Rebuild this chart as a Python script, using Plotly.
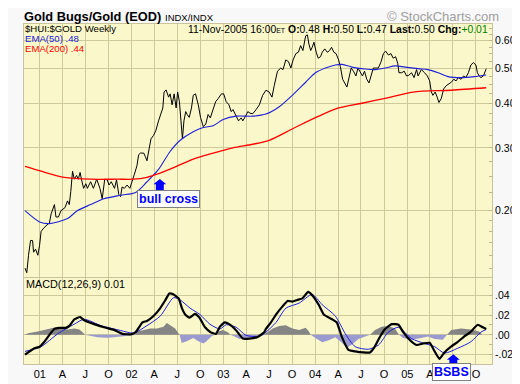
import numpy as np
import plotly.graph_objects as go

# ---------------- data ----------------
price_dates = [
 "2000-11-03","2000-11-10","2000-11-17","2000-11-25","2000-12-03","2000-12-07","2000-12-15","2000-12-24","2000-12-31",
 "2001-01-06","2001-01-17","2001-01-29","2001-02-08","2001-02-15","2001-02-28","2001-03-06","2001-03-16","2001-03-26",
 "2001-04-11","2001-04-21","2001-04-28","2001-05-04","2001-05-11","2001-05-18","2001-05-27","2001-06-03","2001-06-10",
 "2001-06-16","2001-06-24","2001-07-03","2001-07-09","2001-07-22","2001-08-02","2001-08-15","2001-08-28","2001-09-06",
 "2001-09-16","2001-09-26","2001-10-03","2001-10-12","2001-10-25","2001-11-02","2001-11-11","2001-11-18","2001-11-24",
 "2001-12-03","2001-12-14","2001-12-25","2002-01-03","2002-01-12","2002-01-22","2002-01-29","2002-02-05","2002-02-18",
 "2002-02-24","2002-03-03","2002-03-10","2002-03-19","2002-03-29","2002-04-07","2002-04-18","2002-04-27","2002-05-05",
 "2002-05-10","2002-05-18","2002-05-28","2002-06-03","2002-06-11","2002-06-19","2002-06-27","2002-07-03","2002-07-10",
 "2002-07-16","2002-07-22","2002-07-28","2002-08-04","2002-08-10","2002-08-18","2002-08-27","2002-09-03","2002-09-12",
 "2002-09-23","2002-10-02","2002-10-13","2002-10-23","2002-11-01","2002-11-10","2002-11-21","2002-12-01","2002-12-11",
 "2002-12-24","2003-01-02","2003-01-12","2003-01-23","2003-02-01","2003-02-08","2003-02-21","2003-03-02","2003-03-13",
 "2003-03-19","2003-03-30","2003-04-08","2003-04-17","2003-04-28","2003-05-11","2003-05-24","2003-06-06","2003-06-19",
 "2003-07-02","2003-07-13","2003-07-22","2003-08-04","2003-08-17","2003-08-26","2003-09-06","2003-09-17","2003-09-26",
 "2003-10-05","2003-10-16","2003-10-26","2003-11-04","2003-11-13","2003-11-24","2003-12-01","2003-12-07","2003-12-14",
 "2003-12-20","2003-12-27","2004-01-05","2004-01-13","2004-01-22","2004-01-29","2004-02-08","2004-02-18","2004-02-27",
 "2004-03-06","2004-03-15","2004-03-24","2004-04-03","2004-04-10","2004-04-19","2004-04-30","2004-05-06","2004-05-16",
 "2004-05-23","2004-06-01","2004-06-11","2004-06-19","2004-06-28","2004-07-07","2004-07-15","2004-07-24","2004-08-02",
 "2004-08-13","2004-08-19","2004-08-29","2004-09-08","2004-09-19","2004-09-28","2004-10-07","2004-10-18","2004-10-28",
 "2004-11-06","2004-11-16","2004-11-24","2004-11-29","2004-12-10","2004-12-20","2004-12-29","2005-01-07","2005-01-18",
 "2005-01-28","2005-02-07","2005-02-13","2005-02-26","2005-03-11","2005-03-22","2005-03-31","2005-04-07","2005-04-13",
 "2005-04-22","2005-04-30","2005-05-07","2005-05-16","2005-05-26","2005-06-05","2005-06-14","2005-06-25","2005-07-05",
 "2005-07-14","2005-07-23","2005-08-03","2005-08-13","2005-08-22","2005-09-01","2005-09-11","2005-09-21","2005-10-01",
 "2005-10-07","2005-10-14","2005-10-21","2005-10-31","2005-11-11"]
price_values = [
 0.138,0.134,0.150,0.165,0.165,0.153,0.156,0.150,0.160,
 0.175,0.179,0.182,0.185,0.196,0.208,0.192,0.192,0.200,
 0.204,0.213,0.208,0.226,0.258,0.245,0.251,0.245,0.256,
 0.244,0.231,0.238,0.231,0.241,0.231,0.245,0.231,0.216,
 0.245,0.244,0.236,0.241,0.231,0.244,0.222,0.219,0.233,
 0.231,0.236,0.231,0.244,0.253,0.267,0.287,0.290,0.290,
 0.284,0.276,0.294,0.318,0.325,0.335,0.357,0.372,0.388,
 0.430,0.436,0.416,0.425,0.396,0.425,0.388,0.430,0.404,
 0.357,0.318,0.357,0.379,0.372,0.365,0.388,0.421,0.425,
 0.396,0.365,0.344,0.350,0.372,0.364,0.388,0.404,0.412,
 0.425,0.425,0.404,0.396,0.379,0.384,0.368,0.357,0.364,
 0.357,0.368,0.379,0.375,0.374,0.384,0.396,0.421,0.435,
 0.430,0.416,0.448,0.492,0.502,0.497,0.529,0.523,0.502,
 0.529,0.551,0.556,0.580,0.562,0.618,0.622,0.586,0.562,
 0.574,0.593,0.556,0.535,0.540,0.556,0.568,0.556,0.562,
 0.574,0.556,0.551,0.529,0.507,0.467,0.453,0.444,0.477,
 0.502,0.492,0.477,0.502,0.487,0.477,0.492,0.467,0.456,
 0.487,0.502,0.502,0.502,0.523,0.551,0.560,0.546,0.551,
 0.535,0.540,0.518,0.487,0.487,0.492,0.477,0.479,0.487,
 0.472,0.497,0.477,0.497,0.487,0.477,0.462,0.430,0.421,
 0.430,0.416,0.402,0.412,0.439,0.448,0.453,0.458,0.467,
 0.462,0.472,0.467,0.477,0.472,0.487,0.512,0.520,0.512,
 0.487,0.477,0.472,0.477,0.500]

ema50_dates = ["2000-11-03","2000-12-31","2001-02-08","2001-04-21","2001-05-30","2001-07-22","2001-09-13","2001-11-18",
 "2002-01-17","2002-03-03","2002-04-18","2002-06-03","2002-07-13","2002-09-03","2002-10-13","2002-11-21","2002-12-31",
 "2003-02-21","2003-04-28","2003-06-19","2003-08-11","2003-10-02","2003-11-24","2004-01-02","2004-02-11","2004-03-21",
 "2004-04-17","2004-05-26","2004-07-18","2004-08-27","2004-10-05","2004-11-14","2004-12-23","2005-02-13","2005-03-24",
 "2005-05-04","2005-06-12","2005-08-03","2005-09-24","2005-11-11"]
ema50_values = [0.200,0.186,0.184,0.190,0.200,0.208,0.216,0.221,
 0.225,0.241,0.261,0.293,0.315,0.333,0.342,0.346,0.360,
 0.368,0.368,0.373,0.391,0.421,0.458,0.487,0.502,0.512,
 0.514,0.505,0.499,0.497,0.502,0.509,0.505,0.500,0.497,
 0.487,0.475,0.472,0.475,0.480]

ema200_dates = ["2000-11-03","2001-01-06","2001-04-08","2001-07-22","2001-11-08","2002-01-08","2002-03-03","2002-04-12",
 "2002-06-17","2002-09-03","2002-11-21","2003-02-08","2003-04-28","2003-07-02","2003-10-09","2004-01-15","2004-04-03",
 "2004-07-05","2004-10-05","2005-01-24","2005-06-25","2005-11-11"]
ema200_values = [0.266,0.258,0.248,0.245,0.245,0.245,0.248,0.253,
 0.264,0.279,0.290,0.300,0.307,0.315,0.341,0.368,0.388,
 0.400,0.413,0.430,0.435,0.442]

macd_dates = ["2000-11-03","2000-11-14","2000-12-10","2000-12-31","2001-01-19","2001-02-08","2001-02-28","2001-03-19",
 "2001-04-14","2001-04-28","2001-05-18","2001-06-10","2001-06-26","2001-08-05","2001-09-13","2001-10-23","2001-11-25",
 "2001-12-28","2002-01-17","2002-02-13","2002-03-03","2002-03-29","2002-04-25","2002-05-15","2002-05-31","2002-06-17",
 "2002-07-07","2002-07-20","2002-08-02","2002-08-19","2002-09-10","2002-09-28","2002-10-20","2002-11-11","2002-12-02",
 "2002-12-18","2003-01-06","2003-01-24","2003-02-21","2003-03-19","2003-04-14","2003-05-17","2003-06-12","2003-06-19",
 "2003-07-09","2003-07-29","2003-08-24","2003-09-13","2003-10-02","2003-10-22","2003-11-11","2003-12-04","2003-12-20",
 "2004-01-15","2004-02-04","2004-03-08","2004-03-27","2004-04-16","2004-05-12","2004-06-08","2004-07-10","2004-08-06",
 "2004-08-25","2004-09-14","2004-10-05","2004-10-31","2004-11-27","2004-12-16","2005-01-12","2005-02-07","2005-03-05",
 "2005-03-31","2005-04-20","2005-05-09","2005-05-29","2005-06-24","2005-07-21","2005-08-16","2005-09-09","2005-10-08",
 "2005-10-28","2005-11-11"]
macd_values = [-0.0200,-0.0180,-0.0135,-0.0120,-0.0070,0.0000,0.0060,0.0070,
 0.0070,0.0090,0.0157,0.0180,0.0147,0.0108,0.0076,0.0050,0.0010,
 0.0005,0.0027,0.0125,0.0140,0.0190,0.0270,0.0350,0.0417,0.0407,
 0.0368,0.0270,0.0205,0.0173,0.0212,0.0173,0.0076,0.0027,0.0010,
 0.0083,0.0125,0.0108,0.0044,-0.0038,-0.0038,-0.0021,0.0027,0.0060,
 0.0125,0.0205,0.0287,0.0342,0.0336,0.0352,0.0368,0.0433,0.0400,
 0.0303,0.0205,0.0157,0.0125,-0.0021,-0.0151,-0.0167,-0.0177,-0.0177,
 -0.0119,-0.0021,0.0060,0.0108,0.0102,0.0027,-0.0054,-0.0102,-0.0087,
 -0.0080,-0.0167,-0.0242,-0.0177,-0.0119,-0.0070,-0.0015,0.0027,0.0102,
 0.0076,0.0060]

signal_dates = ["2000-11-03","2001-01-06","2001-03-13","2001-05-18","2001-06-26","2001-09-01","2001-11-18","2002-01-08",
 "2002-03-03","2002-04-25","2002-06-17","2002-07-13","2002-08-21","2002-09-30","2002-11-08","2002-12-18","2003-01-12",
 "2003-02-21","2003-04-01","2003-05-24","2003-06-19","2003-07-29","2003-09-07","2003-10-29","2003-12-20","2004-01-29",
 "2004-03-21","2004-04-30","2004-06-08","2004-07-30","2004-09-09","2004-10-18","2004-11-27","2005-01-18","2005-03-11",
 "2005-04-20","2005-05-29","2005-07-21","2005-09-11","2005-10-21","2005-11-11"]
signal_values = [-0.0167,-0.0119,0.0010,0.0108,0.0157,0.0093,0.0044,0.0018,
 0.0093,0.0190,0.0375,0.0352,0.0270,0.0205,0.0108,0.0060,0.0102,
 0.0076,-0.0005,-0.0015,0.0027,0.0125,0.0270,0.0320,0.0407,0.0303,
 0.0190,0.0010,-0.0119,-0.0145,-0.0102,0.0027,0.0076,-0.0038,-0.0087,
 -0.0119,-0.0184,-0.0135,-0.0070,0.0027,0.0054]

hist_dates = ["2000-11-02","2000-11-15","2000-12-24","2001-01-20","2001-02-15","2001-02-28","2001-03-26","2001-04-21",
 "2001-05-18","2001-06-07","2001-06-24","2001-06-30","2001-08-18","2001-09-26","2001-10-23","2001-11-18","2001-12-14",
 "2001-12-30","2002-01-23","2002-02-18","2002-03-16","2002-04-11","2002-05-08","2002-05-21","2002-06-03","2002-06-23",
 "2002-07-06","2002-07-11","2002-07-19","2002-08-08","2002-09-03","2002-09-23","2002-10-13","2002-10-26","2002-11-14",
 "2002-11-26","2002-12-12","2002-12-30","2003-01-20","2003-01-28","2003-02-14","2003-03-06","2003-04-01","2003-05-11",
 "2003-06-03","2003-06-19","2003-07-16","2003-08-11","2003-09-06","2003-10-02","2003-10-29","2003-11-24","2003-12-07",
 "2003-12-14","2004-01-02","2004-01-29","2004-02-24","2004-03-21","2004-04-17","2004-05-06","2004-05-26","2004-06-21",
 "2004-07-18","2004-08-06","2004-08-26","2004-09-21","2004-10-18","2004-11-13","2004-11-29","2004-12-16","2005-01-18",
 "2005-02-26","2005-03-24","2005-04-20","2005-05-22","2005-06-08","2005-06-25","2005-08-03","2005-09-11","2005-10-14",
 "2005-10-26"]
hist_values = [0.0,0.0016,0.0033,0.0049,0.0065,0.0075,0.0065,0.0055,
 0.0065,0.0055,0.0016,0.0,-0.0023,-0.0029,-0.0023,-0.0016,-0.0010,
 0.0,0.0033,0.0049,0.0065,0.0065,0.0081,0.0120,0.0098,0.0065,
 0.0016,0.0,-0.0081,-0.0065,-0.0033,-0.0065,-0.0088,-0.0065,-0.0016,
 0.0,0.0033,0.0049,0.0023,0.0,-0.0016,-0.0042,-0.0033,-0.0016,
 0.0,0.0016,0.0065,0.0088,0.0098,0.0065,0.0049,0.0072,0.0033,
 0.0,-0.0033,-0.0075,-0.0055,-0.0023,-0.0081,-0.0130,-0.0098,-0.0042,
 -0.0016,0.0,0.0049,0.0081,0.0088,0.0065,0.0,-0.0033,-0.0049,
 -0.0033,-0.0016,-0.0042,-0.0049,0.0,0.0049,0.0065,0.0055,0.0033,
 0.0]

x_tick_dates = ["2001-01-01","2001-04-01","2001-07-01","2001-10-01","2002-01-01","2002-04-01","2002-07-01","2002-10-01",
 "2003-01-01","2003-04-01","2003-07-01","2003-10-01","2004-01-01","2004-04-01","2004-07-01","2004-10-01",
 "2005-01-01","2005-04-01","2005-07-01","2005-10-01"]
# the July-2005 label is hidden under the "BSBS" callout in the reference
x_tick_labels = ["01","A","J","O","02","A","J","O","03","A","J","O","04","A","J","O","05","A","","O"]
price_ticks = [0.2, 0.3, 0.4, 0.5, 0.6]
price_tick_labels = ["0.20", "0.30", "0.40", "0.50", "0.60"]
price_minor = [0.1375,0.15,0.1625,0.175,0.1875,0.225,0.25,0.275,0.325,0.35,0.375,0.425,0.45,0.475,0.525,0.55,0.575,0.625,0.65]
macd_ticks = [-0.02, 0.0, 0.02, 0.04]
macd_tick_labels = ["-.02", ".00", ".02", ".04"]
macd_minor = [-0.01, 0.01, 0.03, 0.05]

# ---------------- styling ----------------
W, H = 520, 384
L, R, T, B = 16, 488, 16, 368
PANEL = "#FAF8CA"
GRID = "#CFCA9C"
FONT = "Liberation Sans, Arial, sans-serif"

def px(x):
    return (x - L) / (R - L)

def py(y):
    return (B - y) / (B - T)

x_range = ["2000-10-30", "2005-12-04"]

fig = go.Figure()

# top panel
fig.add_trace(go.Scatter(x=price_dates, y=price_values, mode="lines",
                         line=dict(color="#000000", width=1), xaxis="x", yaxis="y"))
fig.add_trace(go.Scatter(x=ema50_dates, y=ema50_values, mode="lines",
                         line=dict(color="#2020D8", width=1.1, shape="spline", smoothing=0.8), xaxis="x", yaxis="y"))
fig.add_trace(go.Scatter(x=ema200_dates, y=ema200_values, mode="lines",
                         line=dict(color="#FF0000", width=1.3, shape="spline", smoothing=0.8), xaxis="x", yaxis="y"))

# MACD panel
hv = np.array(hist_values)
fig.add_trace(go.Scatter(x=hist_dates, y=np.where(hv > 0, hv, 0.0), mode="lines", fill="tozeroy",
                         fillcolor="#858585", line=dict(width=0, color="#858585"), xaxis="x2", yaxis="y2"))
fig.add_trace(go.Scatter(x=hist_dates, y=np.where(hv < 0, hv, 0.0), mode="lines", fill="tozeroy",
                         fillcolor="#9A9AD0", line=dict(width=0, color="#9A9AD0"), xaxis="x2", yaxis="y2"))
fig.add_trace(go.Scatter(x=signal_dates, y=signal_values, mode="lines",
                         line=dict(color="#2020D8", width=1, shape="spline", smoothing=0.7), xaxis="x2", yaxis="y2"))
fig.add_trace(go.Scatter(x=macd_dates, y=macd_values, mode="lines",
                         line=dict(color="#000000", width=2.2, shape="spline", smoothing=0.4), xaxis="x2", yaxis="y2"))

top_dom = [(B - 278) / (B - T), 1.0]
bot_dom = [0.0, (B - 279) / (B - T)]

axis_common = dict(showline=True, mirror=True, linecolor="#C8C39A", linewidth=1,
                   gridcolor=GRID, gridwidth=1, zeroline=False)

fig.update_layout(
    width=W, height=H,
    margin=dict(l=L, r=W - R, t=T, b=H - B, pad=0),
    paper_bgcolor="#F8F8F8", plot_bgcolor=PANEL,
    showlegend=False,
    font=dict(family=FONT, size=11, color="#000000"),
    xaxis=dict(type="date", range=x_range, domain=[0, 1], anchor="y",
               tickmode="array", tickvals=x_tick_dates, ticktext=x_tick_labels,
               showticklabels=False, ticks="", **axis_common),
    yaxis=dict(type="log", domain=top_dom, anchor="x", side="right",
               range=[np.log10(0.1303), np.log10(0.667)],
               tickmode="array", tickvals=price_ticks, ticktext=price_tick_labels,
               ticks="inside", ticklen=3, tickcolor="#BDB88C", ticklabeloverflow="allow",
               minor=dict(tickmode="array", tickvals=price_minor, ticks="inside", ticklen=3,
                          tickcolor="#BDB88C", showgrid=False),
               tickfont=dict(size=10.5, family=FONT), **axis_common),
    xaxis2=dict(type="date", range=x_range, domain=[0, 1], anchor="y2",
                tickmode="array", tickvals=x_tick_dates, ticktext=x_tick_labels,
                ticks="", tickfont=dict(size=11, family=FONT), **axis_common),
    yaxis2=dict(domain=bot_dom, anchor="x2", side="right",
                range=[-0.0294, 0.0573],
                tickmode="array", tickvals=macd_ticks, ticktext=macd_tick_labels,
                ticks="inside", ticklen=3, tickcolor="#BDB88C", ticklabeloverflow="allow",
                minor=dict(tickmode="array", tickvals=macd_minor, ticks="inside", ticklen=3,
                           tickcolor="#BDB88C", showgrid=False),
                tickfont=dict(size=10.5, family=FONT), **axis_common),
)

def text(x, y, s, size=11, color="#000000", xanchor="left", **kw):
    fig.add_annotation(x=px(x), y=py(y), xref="paper", yref="paper", text=s, showarrow=False,
                       xanchor=xanchor, yanchor="middle", borderpad=0,
                       font=dict(size=size, color=color, family=FONT), **kw)

# header texts
text(15, 8.5, "<b>Gold Bugs/Gold (EOD)</b>", size=12.8)
text(157, 9, "INDX/INDX", size=9.5)
text(381, 8.5, "© StockCharts.com", size=13, color="#A0A0A0")
text(16, 21.0, "$HUI:$GOLD Weekly", size=9.6)
text(16, 31.3, "EMA(50) .48", size=9.6, color="#2020D8")
text(16, 41.6, "EMA(200) .44", size=9.6, color="#FF0000")
text(485, 21.5, "11-Nov-2005 16:00<span style='font-size:7px'>ET</span> <b>O:</b>0.48 <b>H:</b>0.50 "
               "<b>L:</b>0.47 <b>Last:</b>0.50 <b>Chg:</b><span style='color:#008000'>+0.01</span>",
     size=10.4, xanchor="right")
text(17, 285.5, "MACD(12,26,9) 0.01", size=10.8)

# callout arrows (decorations)
def arrow(xc, ytip, ybase, ybottom, hw, sw):
    path = (f"M {px(xc)},{py(ytip)} L {px(xc + hw)},{py(ybase)} L {px(xc + sw)},{py(ybase)} "
            f"L {px(xc + sw)},{py(ybottom)} L {px(xc - sw)},{py(ybottom)} L {px(xc - sw)},{py(ybase)} "
            f"L {px(xc - hw)},{py(ybase)} Z")
    fig.add_shape(type="path", path=path, xref="paper", yref="paper",
                  fillcolor="#0000FF", line=dict(width=0))

arrow(153, 176.5, 182, 190, 6.5, 4)
fig.add_annotation(x=px(161.5), y=py(196.8), xref="paper", yref="paper", text="<b>bull cross</b>",
                   showarrow=False, xanchor="center", yanchor="middle",
                   font=dict(size=12.5, color="#0000FF", family=FONT),
                   bgcolor="#FFFFFF", bordercolor="#808080", borderwidth=1, borderpad=1)

arrow(449, 358, 363.5, 369.5, 6.5, 4)
fig.add_annotation(x=px(447.5), y=py(376.5), xref="paper", yref="paper", text="<b>BSBS</b>",
                   showarrow=False, xanchor="center", yanchor="middle",
                   font=dict(size=12.5, color="#0000FF", family=FONT),
                   bgcolor="#FFFFFF", bordercolor="#808080", borderwidth=1, borderpad=1)

fig.write_html("out.html")
